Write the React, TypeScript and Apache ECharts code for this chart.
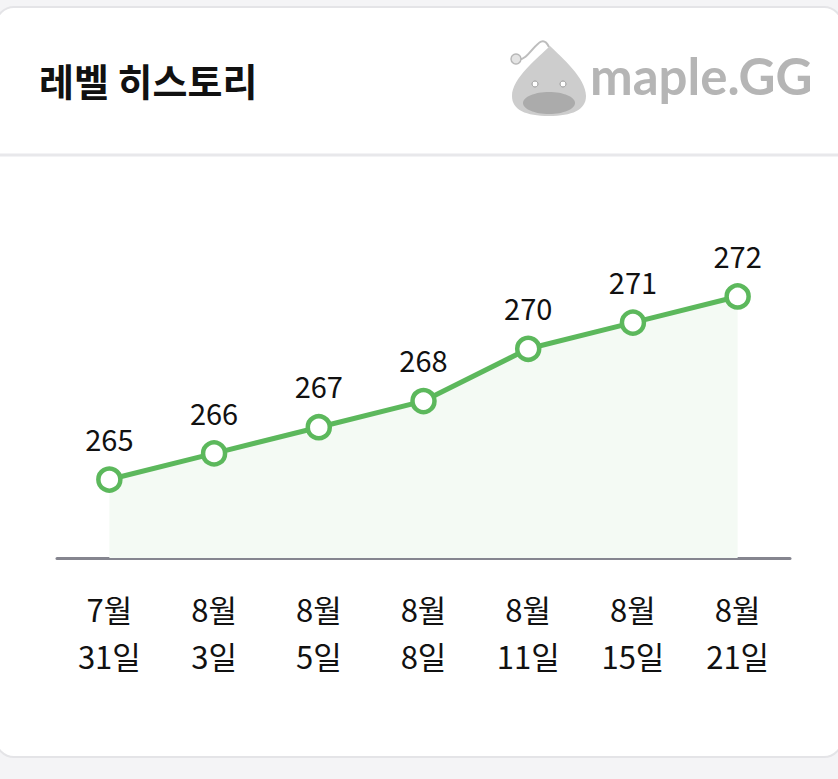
import React, { useEffect, useRef } from "react";
import * as echarts from "echarts";

const categories = ["7월\n31일", "8월\n3일", "8월\n5일", "8월\n8일", "8월\n11일", "8월\n15일", "8월\n21일"];
const levels = [265, 266, 267, 268, 270, 271, 272];
const titleText = "레벨 히스토리";
const logoText = "maple.GG";

const FONT = "'Noto Sans CJK KR', 'Noto Sans', sans-serif";

echarts.graphic.registerShape(
  "slime",
  echarts.graphic.extendPath(
    "M 38 0 C 50 12 74 32 74 50 C 74 64 60 70 37 70 C 14 70 0 64 0 50 C 0 32 26 12 38 0 Z",
    {}
  )
);

export default function App() {
  const ref = useRef<HTMLDivElement>(null);
  useEffect(() => {
    if (!ref.current) return;
    const chart = echarts.init(ref.current, null, { renderer: "svg" });
    chart.setOption({
      animation: false,
      backgroundColor: "#f4f4f6",
      graphic: [
        {
          type: "rect",
          z: -10,
          shape: { x: -4, y: 7, width: 846, height: 750, r: 18 },
          style: { fill: "#ffffff", stroke: "#e4e4e7", lineWidth: 2 },
        },
        {
          type: "line",
          z: -5,
          shape: { x1: 0, y1: 155, x2: 838, y2: 155 },
          style: { stroke: "#e8e8eb", lineWidth: 3 },
        },
        {
          type: "text",
          left: 39,
          top: 60,
          style: { text: titleText, font: `bold 38px ${FONT}`, fill: "#111111" },
        },
        {
          type: "slime",
          x: 512,
          y: 46,
          scaleX: 1,
          scaleY: 1,
          style: { fill: "#cdcdcd" },
        },
        {
          type: "ellipse",
          shape: { cx: 549, cy: 103, rx: 26, ry: 11 },
          style: { fill: "#ababab" },
        },
        {
          type: "bezierCurve",
          shape: { x1: 549, y1: 47, x2: 518, y2: 59, cpx1: 540, cpy1: 28, cpx2: 530, cpy2: 62 },
          style: { stroke: "#bdbdbd", lineWidth: 2, fill: null },
        },
        {
          type: "circle",
          shape: { cx: 516, cy: 59, r: 5 },
          style: { fill: "#e4e4e4", stroke: "#b8b8b8", lineWidth: 1.5 },
        },
        {
          type: "circle",
          shape: { cx: 535, cy: 84, r: 3 },
          style: { fill: "#ffffff", stroke: "#9a9a9a", lineWidth: 1 },
        },
        {
          type: "circle",
          shape: { cx: 563, cy: 84, r: 3 },
          style: { fill: "#ffffff", stroke: "#9a9a9a", lineWidth: 1 },
        },
        {
          type: "text",
          left: 590,
          top: 50,
          style: { text: logoText, font: `bold 51px 'Lato', 'DejaVu Sans', sans-serif`, fill: "#b5b5b5" },
        },
      ],
      grid: { left: 57, right: 48, top: 218, bottom: 221, containLabel: false },
      xAxis: {
        type: "category",
        data: categories,
        boundaryGap: true,
        axisLine: { show: true, lineStyle: { color: "#85858f", width: 3 } },
        axisTick: { show: false },
        axisLabel: {
          color: "#111111",
          fontSize: 31,
          fontFamily: FONT,
          lineHeight: 47,
          margin: 27,
          interval: 0,
        },
      },
      yAxis: {
        type: "value",
        min: 262,
        max: 275,
        show: false,
        splitLine: { show: false },
      },
      series: [
        {
          type: "line",
          data: levels,
          symbol: "circle",
          symbolSize: 22,
          showAllSymbol: true,
          lineStyle: { color: "#5cb85c", width: 5 },
          itemStyle: { color: "#ffffff", borderColor: "#5cb85c", borderWidth: 4.5 },
          areaStyle: { color: "#f4faf4", opacity: 1, origin: "start" },
          label: {
            show: true,
            position: "top",
            distance: 14,
            color: "#111111",
            fontSize: 29,
            fontFamily: FONT,
          },
        },
      ],
    });
    return () => chart.dispose();
  }, []);
  return (
    <div
      ref={ref}
      style={{ position: "absolute", left: 0, top: 0, width: 838, height: 779 }}
    />
  );
}
